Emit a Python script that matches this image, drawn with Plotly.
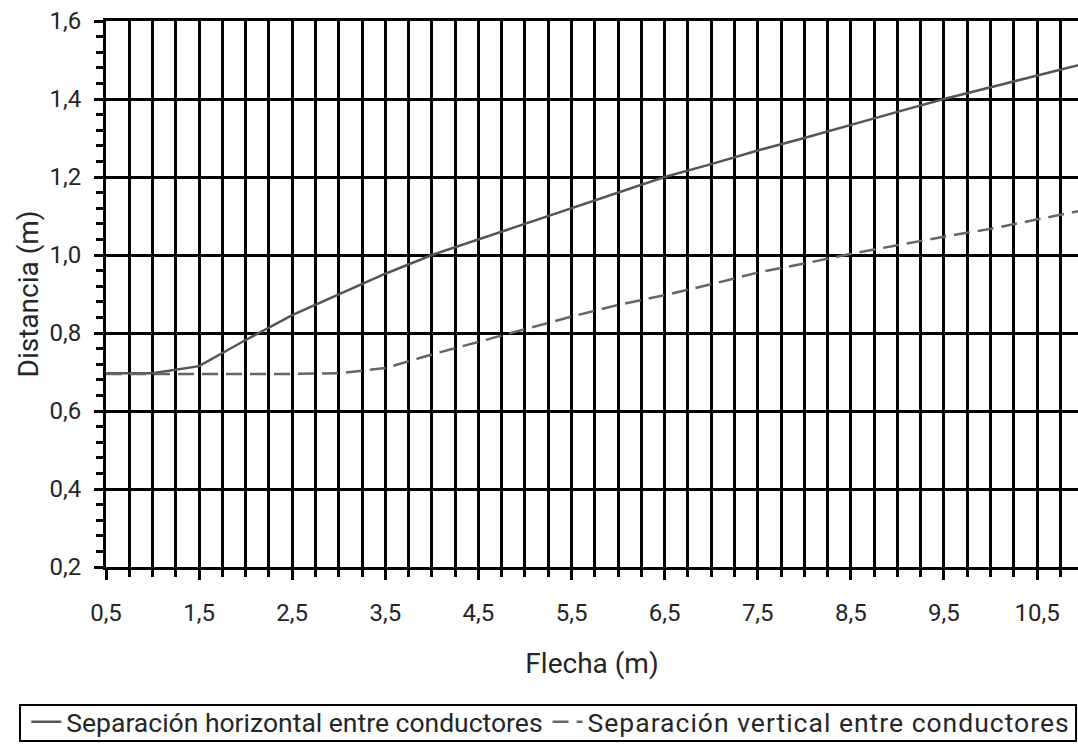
import plotly.graph_objects as go

# Flecha (m)
flecha = [0.5, 1.0, 1.5, 2.0, 2.5, 3.0, 3.5, 4.0, 4.5, 5.0, 5.5,
          6.0, 6.5, 7.0, 7.5, 8.0, 8.5, 9.0, 9.5, 10.0, 10.5, 11.0]

# Distancia (m)
sep_horizontal = [0.697, 0.697, 0.715, 0.782, 0.846, 0.900, 0.952, 1.000, 1.040, 1.080, 1.122,
                  1.161, 1.200, 1.233, 1.268, 1.300, 1.334, 1.367, 1.400, 1.430, 1.460, 1.490]
sep_vertical = [0.695, 0.695, 0.695, 0.695, 0.695, 0.697, 0.710, 0.745, 0.777, 0.810, 0.842,
                0.872, 0.897, 0.925, 0.955, 0.978, 1.003, 1.025, 1.047, 1.067, 1.090, 1.115]

names = ["Separación horizontal entre conductores", "Separación vertical entre conductores"]

TXT = "#262626"
FONT = "Roboto, sans-serif"

fig = go.Figure()
fig.add_trace(go.Scatter(x=flecha, y=sep_horizontal, mode="lines", name=names[0],
                         line=dict(color="#555555", width=2.5)))
fig.add_trace(go.Scatter(x=flecha, y=sep_vertical, mode="lines",
                         name='<span style="letter-spacing:1px">' + names[1] + "</span>",
                         line=dict(color="#666666", width=2.5, dash="16px,8px")))

fig.update_layout(
    width=1078, height=744,
    margin=dict(l=106, r=0, t=21, b=177, autoexpand=False),
    plot_bgcolor="white", paper_bgcolor="white",
    separators=",.",
    font=dict(family=FONT, color=TXT, size=24),
    showlegend=True,
    legend=dict(orientation="h", x=-0.082, xanchor="left", y=-0.284, yanchor="middle",
                font=dict(family=FONT, size=26.5, color=TXT),
                bgcolor="rgba(0,0,0,0)", borderwidth=0, itemwidth=30),
    shapes=[dict(type="rect", xref="paper", yref="paper",
                 x0=-0.0885, x1=0.998, y0=-0.3187, y1=-0.2527,
                 line=dict(color="black", width=2), fillcolor="rgba(0,0,0,0)")],
)

fig.update_xaxes(
    range=[0.5, 10.94], tick0=0.5, dtick=1, tickformat=".1f",
    ticks="outside", ticklen=10, tickwidth=3, tickcolor="black",
    ticklabelstandoff=12,
    showgrid=True, gridcolor="black", gridwidth=3,
    showline=True, linecolor="black", linewidth=3, mirror=True,
    zeroline=False, automargin=False,
    tickfont=dict(family=FONT, size=24, color=TXT),
    title=dict(text="Flecha (m)", font=dict(family=FONT, size=28, color=TXT), standoff=28),
    minor=dict(tick0=0.5, dtick=0.25, ticks="outside", ticklen=7, tickwidth=3,
               tickcolor="black", showgrid=True, gridcolor="black", gridwidth=3),
)
fig.update_yaxes(
    range=[0.2, 1.6], tick0=0.2, dtick=0.2, tickformat=".1f",
    ticks="outside", ticklen=9, tickwidth=3, tickcolor="black",
    ticklabelstandoff=8,
    showgrid=True, gridcolor="black", gridwidth=3,
    showline=True, linecolor="black", linewidth=3,
    zeroline=False, automargin=False,
    tickfont=dict(family=FONT, size=24, color=TXT),
    title=dict(text="Distancia (m)", font=dict(family=FONT, size=28, color=TXT), standoff=3),
    minor=dict(tick0=0.2, dtick=0.04, ticks="outside", ticklen=7, tickwidth=3,
               tickcolor="black", showgrid=False),
)

fig.write_html("out.html")
